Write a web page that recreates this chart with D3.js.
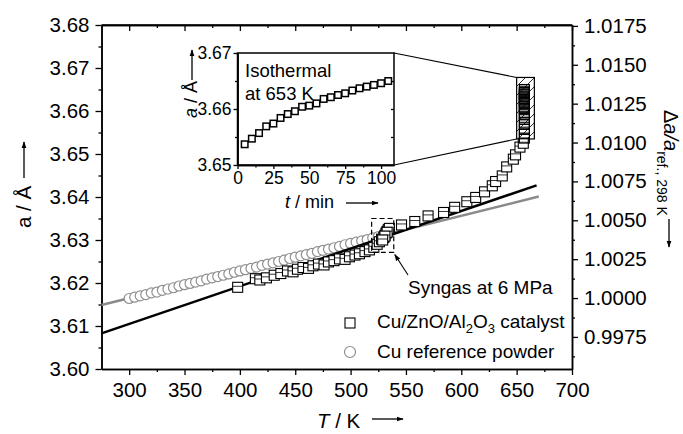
<!DOCTYPE html>
<html>
<head>
<meta charset="utf-8">
<script src="https://cdn.jsdelivr.net/npm/d3@7"></script>
<style>
  body { margin: 0; background: #fff; }
  text { font-family: "Liberation Sans", Arial, sans-serif; fill: #000; }
</style>
</head>
<body>
<svg id="chart" width="683" height="434"></svg>
<script>
// Cu/ZnO/Al2O3 catalyst (ramp in syngas)
var catT = [398, 414, 418, 424, 431, 437, 443, 448, 452, 457, 462, 466, 471, 476, 480, 485, 490, 495, 499, 504,
            508, 513, 517, 521, 524, 526, 528, 530, 531, 532, 533, 534, 535, 533, 531, 529,
            546, 558, 570, 584, 594, 605, 613, 621, 628, 631, 637, 641, 647, 649, 653, 656];
var catA = [3.6190, 3.6210, 3.6207, 3.6212, 3.6218, 3.6222, 3.6228, 3.6226, 3.6232, 3.6236, 3.6234, 3.6240, 3.6244, 3.6242, 3.6249, 3.6252, 3.6256, 3.6255, 3.6261, 3.6265,
            3.6268, 3.6273, 3.6277, 3.6283, 3.6290, 3.6296, 3.6302, 3.6306, 3.6311, 3.6316, 3.6320, 3.6324, 3.6327, 3.6318, 3.6309, 3.6300,
            3.6335, 3.6343, 3.6356, 3.6364, 3.6376, 3.6389, 3.6399, 3.6412, 3.6426, 3.6436, 3.6449, 3.6470, 3.6488, 3.6498, 3.6516, 3.6525];

// Cu reference powder
var refT = [300, 305, 310, 315, 320, 325, 330, 335, 340, 345, 350, 355, 360, 365, 370, 375, 380, 385, 390, 395,
            400, 405, 410, 415, 420, 425, 430, 435, 440, 445, 450, 455, 460, 465, 470, 475, 480, 485, 490, 495,
            500, 505, 510, 515, 520, 525, 530];
var refA = [3.6164, 3.6167, 3.6170, 3.6173, 3.6177, 3.6179, 3.6183, 3.6186, 3.6189, 3.6193, 3.6196, 3.6199, 3.6202, 3.6205, 3.6209, 3.6212, 3.6215, 3.6218, 3.6221, 3.6225,
            3.6228, 3.6231, 3.6234, 3.6237, 3.6241, 3.6244, 3.6247, 3.6250, 3.6253, 3.6257, 3.6260, 3.6263, 3.6266, 3.6269, 3.6273, 3.6276, 3.6279, 3.6282, 3.6285, 3.6289,
            3.6292, 3.6295, 3.6298, 3.6301, 3.6305, 3.6308, 3.6311];

// isothermal hold at 653 K (inset)
var isoTime = [5, 10, 15, 20, 25, 30, 35, 40, 45, 50, 55, 60, 65, 70, 75, 80, 85, 90, 95, 100, 105];
var isoA = [3.6537, 3.6547, 3.6557, 3.6569, 3.6574, 3.6584, 3.6591, 3.6596, 3.6604, 3.6606, 3.6610,
            3.6618, 3.6621, 3.6625, 3.6628, 3.6633, 3.6637, 3.6640, 3.6643, 3.6646, 3.6650];
var isoTemp = 657;

// linear fits
var fitCatT = [275, 668], fitCatA = [3.6083, 3.6427];
var fitRefT = [275, 670], fitRefA = [3.6149, 3.6401];

var aRef = 3.6165;   // Cu at 298 K

var xTicks = [300, 350, 400, 450, 500, 550, 600, 650, 700];
var yTicks = [3.60, 3.61, 3.62, 3.63, 3.64, 3.65, 3.66, 3.67, 3.68];
var rTicks = [0.9975, 1.0000, 1.0025, 1.0050, 1.0075, 1.0100, 1.0125, 1.0150, 1.0175];
var insetXTicks = [0, 25, 50, 75, 100];
var insetYTicks = [3.65, 3.66, 3.67];

var svg = d3.select("#chart");
var pL = 101.5, pR = 572, pT = 25, pB = 369;

var x = d3.scaleLinear().domain([275, 700]).range([pL, pR]);
var y = d3.scaleLinear().domain([3.60, 3.68]).range([pB, pT]);
var yr = d3.scaleLinear().domain([3.60 / aRef, 3.68 / aRef]).range([pB, pT]);

var defs = svg.append("defs");
defs.append("marker").attr("id", "arr")
  .attr("viewBox", "0 0 10 10").attr("refX", 9).attr("refY", 5)
  .attr("markerWidth", 7).attr("markerHeight", 7).attr("markerUnits", "userSpaceOnUse")
  .attr("orient", "auto")
  .append("path").attr("d", "M0,1.5 L10,5 L0,8.5 z").attr("fill", "#000");
var hatch = defs.append("pattern").attr("id", "hatch")
  .attr("patternUnits", "userSpaceOnUse").attr("width", 9).attr("height", 9);
hatch.append("path").attr("d", "M-1,10 L10,-1").attr("stroke", "#000").attr("stroke-width", 0.8);

function minors(ticks) {
  var out = [];
  for (var i = 0; i < ticks.length - 1; i++) out.push((ticks[i] + ticks[i + 1]) / 2);
  return out;
}

function styleAxis(g, fs) {
  g.select(".domain").attr("stroke", "#000").attr("stroke-width", 1.5);
  g.selectAll(".tick line").attr("stroke", "#000").attr("stroke-width", 1.3);
  g.selectAll(".tick text").attr("font-size", fs).attr("fill", "#000")
    .style("font-family", '"Liberation Sans", Arial, sans-serif');
}

// ---- main axes
var gx = svg.append("g").attr("transform", "translate(0," + pB + ")")
  .call(d3.axisBottom(x).tickValues(xTicks).tickSize(6).tickSizeOuter(0).tickPadding(7).tickFormat(d3.format("d")));
styleAxis(gx, 20.5);
var gx2 = svg.append("g").attr("transform", "translate(0," + pB + ")")
  .call(d3.axisBottom(x).tickValues(minors(xTicks)).tickSize(3).tickSizeOuter(0).tickFormat(""));
styleAxis(gx2, 0);

var gt = svg.append("g").attr("transform", "translate(0," + pT + ")")
  .call(d3.axisBottom(x).tickValues(xTicks).tickSize(6).tickSizeOuter(0).tickFormat(""));
styleAxis(gt, 0);
var gt2 = svg.append("g").attr("transform", "translate(0," + pT + ")")
  .call(d3.axisBottom(x).tickValues(minors(xTicks)).tickSize(3).tickSizeOuter(0).tickFormat(""));
styleAxis(gt2, 0);

var gy = svg.append("g").attr("transform", "translate(" + pL + ",0)")
  .call(d3.axisLeft(y).tickValues(yTicks).tickSize(6).tickSizeOuter(0).tickPadding(6).tickFormat(d3.format(".2f")));
styleAxis(gy, 20.5);
var gy2 = svg.append("g").attr("transform", "translate(" + pL + ",0)")
  .call(d3.axisLeft(y).tickValues(minors(yTicks)).tickSize(3).tickSizeOuter(0).tickFormat(""));
styleAxis(gy2, 0);

var gr = svg.append("g").attr("transform", "translate(" + pR + ",0)")
  .call(d3.axisRight(yr).tickValues(rTicks).tickSize(6).tickSizeOuter(0).tickPadding(6).tickFormat(d3.format(".4f")));
styleAxis(gr, 20.5);
var gr2 = svg.append("g").attr("transform", "translate(" + pR + ",0)")
  .call(d3.axisRight(yr).tickValues(minors(rTicks).concat([0.99625])).tickSize(3).tickSizeOuter(0).tickFormat(""));
styleAxis(gr2, 0);

// frame top line
svg.append("line").attr("x1", pL).attr("x2", pR).attr("y1", pT).attr("y2", pT)
  .attr("stroke", "#000").attr("stroke-width", 1.5);

// ---- axis titles
svg.append("text").attr("x", 317).attr("y", 428).attr("font-size", 20.5)
  .html('<tspan font-style="italic">T</tspan> / K');
svg.append("line").attr("x1", 372).attr("x2", 403).attr("y1", 419).attr("y2", 419)
  .attr("stroke", "#000").attr("stroke-width", 1.3).attr("marker-end", "url(#arr)");

svg.append("text").attr("transform", "translate(31,228) rotate(-90)").attr("font-size", 20.5)
  .text("a / Å");
svg.append("line").attr("x1", 24).attr("x2", 24).attr("y1", 178).attr("y2", 142)
  .attr("stroke", "#000").attr("stroke-width", 1.3).attr("marker-end", "url(#arr)");

var rt = svg.append("text").attr("transform", "translate(664,110) rotate(90)").attr("font-size", 20);
rt.append("tspan").text("Δ");
rt.append("tspan").attr("font-style", "italic").text("a/a");
rt.append("tspan").attr("font-size", 14).attr("dy", 7).text("ref., 298 K");
svg.append("line").attr("x1", 669).attr("x2", 669).attr("y1", 219).attr("y2", 247)
  .attr("stroke", "#000").attr("stroke-width", 1.3).attr("marker-end", "url(#arr)");

// ---- fit lines
var line = d3.line().x(function(d) { return x(d[0]); }).y(function(d) { return y(d[1]); });
svg.append("path").datum(d3.zip(fitRefT, fitRefA)).attr("d", line)
  .attr("fill", "none").attr("stroke", "#8a8a8a").attr("stroke-width", 2.5);

// ---- reference circles
svg.append("g").selectAll("circle").data(d3.zip(refT, refA)).enter().append("circle")
  .attr("cx", function(d) { return x(d[0]); })
  .attr("cy", function(d) { return y(d[1]); })
  .attr("r", 5)
  .attr("fill", "#fff").attr("stroke", "#8f8f8f").attr("stroke-width", 1.2);

svg.append("path").datum(d3.zip(fitCatT, fitCatA)).attr("d", line)
  .attr("fill", "none").attr("stroke", "#000").attr("stroke-width", 2.5);

// hatched box around isothermal data
var boxT = [650, 666], boxA = [3.6535, 3.6678];
svg.append("rect")
  .attr("x", x(boxT[0])).attr("y", y(boxA[1]))
  .attr("width", x(boxT[1]) - x(boxT[0])).attr("height", y(boxA[0]) - y(boxA[1]))
  .attr("fill", "url(#hatch)").attr("stroke", "#000").attr("stroke-width", 1.2);

// ---- catalyst squares
var sq = 10;
function drawSquares(g, data, xs, ys, s, sw) {
  var gg = g.selectAll("g.sq").data(data).enter().append("g").attr("class", "sq")
    .attr("transform", function(d) { return "translate(" + xs(d[0]) + "," + ys(d[1]) + ")"; });
  gg.append("rect").attr("x", -s / 2).attr("y", -s / 2).attr("width", s).attr("height", s)
    .attr("fill", "#fff").attr("stroke", "#000").attr("stroke-width", sw);
  return gg;
}
var catG = drawSquares(svg.append("g"), d3.zip(catT, catA), x, y, sq, 1.1);
catG.append("line").attr("x1", -sq / 2).attr("x2", sq / 2).attr("y1", -1).attr("y2", -1)
  .attr("stroke", "#000").attr("stroke-width", 0.8);

var isoMain = isoA.map(function(a) { return [isoTemp, a]; });
var isoG = drawSquares(svg.append("g"), isoMain, x, y, sq, 1.1);
isoG.select("rect").attr("fill", "none");
isoG.append("line").attr("x1", -sq / 2).attr("x2", sq / 2).attr("y1", 0).attr("y2", 0)
  .attr("stroke", "#000").attr("stroke-width", 0.8);

// dashed box: syngas at 6 MPa
var dashT = [519, 539], dashA = [3.6271, 3.6350];
svg.append("rect")
  .attr("x", x(dashT[0])).attr("y", y(dashA[1]))
  .attr("width", x(dashT[1]) - x(dashT[0])).attr("height", y(dashA[0]) - y(dashA[1]))
  .attr("fill", "none").attr("stroke", "#000").attr("stroke-width", 1.2).attr("stroke-dasharray", "5,3");
svg.append("line").attr("x1", 408).attr("y1", 275).attr("x2", x(dashT[1]) + 1).attr("y2", y(dashA[0]) + 2)
  .attr("stroke", "#000").attr("stroke-width", 1.1).attr("marker-end", "url(#arr)");
svg.append("text").attr("x", 408).attr("y", 294).attr("font-size", 19).text("Syngas at 6 MPa");

// ---- legend
svg.append("rect").attr("x", 345).attr("y", 318).attr("width", 10).attr("height", 10)
  .attr("fill", "#fff").attr("stroke", "#000").attr("stroke-width", 1.1);
var lt = svg.append("text").attr("x", 377).attr("y", 328).attr("font-size", 19);
lt.append("tspan").text("Cu/ZnO/Al");
lt.append("tspan").attr("font-size", 13).attr("dy", 5).text("2");
lt.append("tspan").attr("dy", -5).text("O");
lt.append("tspan").attr("font-size", 13).attr("dy", 5).text("3");
lt.append("tspan").attr("dy", -5).text(" catalyst");
svg.append("circle").attr("cx", 350).attr("cy", 352).attr("r", 5.5)
  .attr("fill", "#fff").attr("stroke", "#8f8f8f").attr("stroke-width", 1.2);
svg.append("text").attr("x", 377).attr("y", 358).attr("font-size", 19).text("Cu reference powder");

// ---- inset
var iL = 237.5, iR = 394, iT = 53, iB = 165;
var ix = d3.scaleLinear().domain([0, 109]).range([iL, iR]);
var iy = d3.scaleLinear().domain([3.65, 3.67]).range([iB, iT]);

// connector lines to hatched box
svg.append("line").attr("x1", iR).attr("y1", iT).attr("x2", x(boxT[0])).attr("y2", y(boxA[1]))
  .attr("stroke", "#000").attr("stroke-width", 1.1);
svg.append("line").attr("x1", iR).attr("y1", iB).attr("x2", x(boxT[0])).attr("y2", y(boxA[0]))
  .attr("stroke", "#000").attr("stroke-width", 1.1);

svg.append("rect").attr("x", iL).attr("y", iT).attr("width", iR - iL).attr("height", iB - iT)
  .attr("fill", "#fff").attr("stroke", "#000").attr("stroke-width", 1.5);

var ixMinor = [12.5, 37.5, 62.5, 87.5];
var gix = svg.append("g").attr("transform", "translate(0," + iB + ")")
  .call(d3.axisBottom(ix).tickValues(insetXTicks).tickSize(4).tickSizeOuter(0).tickPadding(3).tickFormat(d3.format("d")));
styleAxis(gix, 17.5);
var gix2 = svg.append("g").attr("transform", "translate(0," + iB + ")")
  .call(d3.axisBottom(ix).tickValues(ixMinor).tickSize(2.5).tickSizeOuter(0).tickFormat(""));
styleAxis(gix2, 0);
var giy = svg.append("g").attr("transform", "translate(" + iL + ",0)")
  .call(d3.axisLeft(iy).tickValues(insetYTicks).tickSize(4).tickSizeOuter(0).tickPadding(2).tickFormat(d3.format(".2f")));
styleAxis(giy, 17.5);
var giy2 = svg.append("g").attr("transform", "translate(" + iL + ",0)")
  .call(d3.axisLeft(iy).tickValues([3.655, 3.665]).tickSize(2.5).tickSizeOuter(0).tickFormat(""));
styleAxis(giy2, 0);
var giyr = svg.append("g").attr("transform", "translate(" + iR + ",0)")
  .call(d3.axisLeft(iy).tickValues([3.655, 3.66, 3.665]).tickSize(3).tickSizeOuter(0).tickFormat(""));
styleAxis(giyr, 0);
giyr.select(".domain").remove();

var isoIn = d3.zip(isoTime, isoA);
var insetSq = drawSquares(svg.append("g"), isoIn, ix, iy, 6.5, 1.5);

svg.append("text").attr("x", 245).attr("y", 77).attr("font-size", 18.5).text("Isothermal");
svg.append("text").attr("x", 245).attr("y", 100).attr("font-size", 18.5).text("at 653 K");

svg.append("text").attr("x", 285).attr("y", 208).attr("font-size", 18)
  .html('<tspan font-style="italic">t</tspan> / min');
svg.append("line").attr("x1", 346).attr("x2", 378).attr("y1", 203).attr("y2", 203)
  .attr("stroke", "#000").attr("stroke-width", 1.3).attr("marker-end", "url(#arr)");

svg.append("text").attr("transform", "translate(197,118) rotate(-90)").attr("font-size", 18)
  .html('<tspan font-style="italic">a</tspan> / Å');
svg.append("line").attr("x1", 192).attr("x2", 192).attr("y1", 80).attr("y2", 50)
  .attr("stroke", "#000").attr("stroke-width", 1.3).attr("marker-end", "url(#arr)");
</script>
</body>
</html>
